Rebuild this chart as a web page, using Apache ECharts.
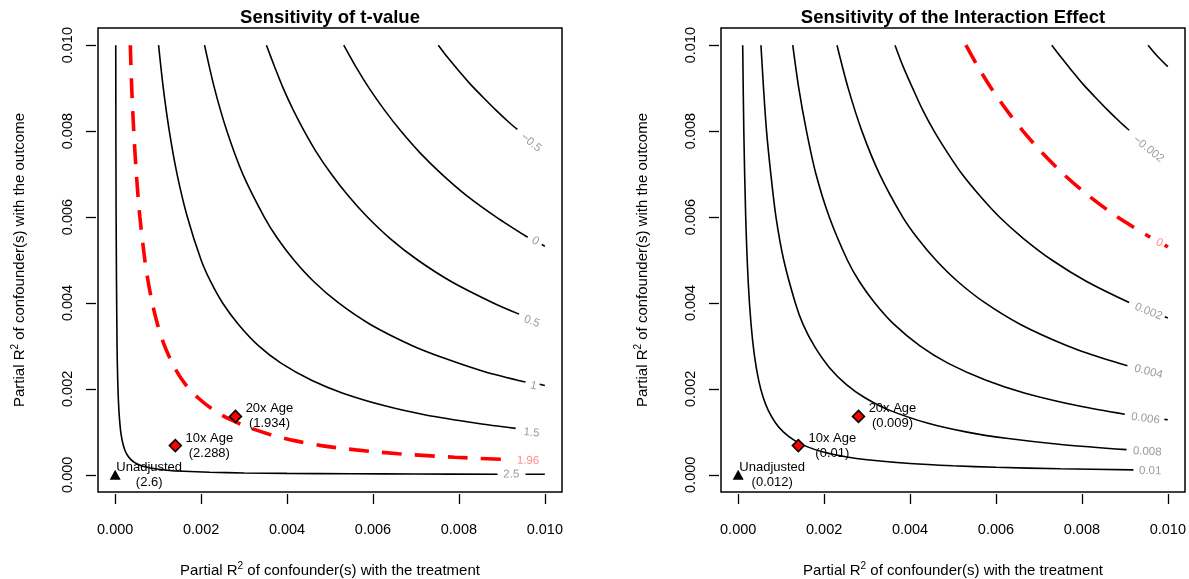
<!DOCTYPE html>
<html>
<head>
<meta charset="utf-8">
<script src="https://cdn.jsdelivr.net/npm/echarts@6/dist/echarts.min.js"></script>
<style>
  html, body { margin: 0; padding: 0; background: #fff; }
  #chart { width: 1189px; height: 579px; }
</style>
</head>
<body>
<div id="chart"></div>
<script>
// ---- axes (same range on both panels) ----
const tickValues = [0, 0.002, 0.004, 0.006, 0.008, 0.010];
const tickLabels = ['0.000', '0.002', '0.004', '0.006', '0.008', '0.010'];

// ---- benchmark points ----
const benchNames = ['Unadjusted', '10x Age', '20x Age'];
const benchX = [0, 0.0014, 0.0028];
const benchY = [0, 0.00068, 0.00136];
const benchT = ['2.6', '2.288', '1.934'];
const benchEst = ['0.012', '0.01', '0.009'];

// ---- left panel: t-value contours, [R2dz.x, R2yz.dx] ----
const tLineM05 = [[0.00752,0.0100],[0.00775,0.0097],[0.00800,0.0094],[0.00826,0.0091],[0.00855,0.0088],[0.00885,0.0085],[0.00917,0.0082],[0.00936,0.00804]];
const tLine0 = [[0.00532,0.0100],[0.00560,0.0095],[0.00591,0.0090],[0.00626,0.0085],[0.00665,0.0080],[0.00709,0.0075],[0.00760,0.0070],[0.00818,0.0065],[0.00887,0.0060],[0.00960,0.00553]];
const tLine05 = [[0.00352,0.0100],[0.00371,0.0095],[0.00391,0.0090],[0.00414,0.0085],[0.00440,0.0080],[0.00469,0.0075],[0.00503,0.0070],[0.00542,0.0065],[0.00587,0.0060],[0.00640,0.0055],[0.00704,0.0050],[0.00782,0.0045],[0.00880,0.0040],[0.00940,0.00374]];
const tLine1 = [[0.00208,0.0100],[0.00231,0.0090],[0.00260,0.0080],[0.00297,0.0070],[0.00347,0.0060],[0.00378,0.0055],[0.00416,0.0050],[0.00462,0.0045],[0.00520,0.0040],[0.00594,0.0035],[0.00693,0.0030],[0.00770,0.0027],[0.00860,0.0024],[0.00955,0.00216]];
const tLine15 = [[0.00101,0.0100],[0.00112,0.0090],[0.00126,0.0080],[0.00144,0.0070],[0.00168,0.0060],[0.00200,0.0050],[0.00222,0.0045],[0.00250,0.0040],[0.00287,0.0035],[0.00334,0.0030],[0.00386,0.0026],[0.00457,0.0022],[0.00530,0.0019],[0.00630,0.0016],[0.00720,0.0014],[0.00842,0.0012],[0.00932,0.00108]];
const tLine25 = [[0.000013,0.0100],[0.0000217,0.0060],[0.0000433,0.0030],[0.000065,0.0020],[0.0000867,0.0015],[0.000118,0.0011],[0.000144,0.0009],[0.000186,0.0007],[0.000236,0.00055],[0.000289,0.00045],[0.000361,0.00036],[0.000448,0.00029],[0.000565,0.00023],[0.000722,0.00018],[0.00093,0.00014],[0.0012,0.000108],[0.0016,0.0000813],[0.0022,0.0000591],[0.0030,0.0000433],[0.0040,0.0000325],[0.0055,0.0000236],[0.0070,0.0000186],[0.0089,0.0000146]];
const tLine196 = [[0.000352,0.0100],[0.000385,0.0090],[0.000432,0.0080],[0.000493,0.0070],[0.000575,0.0060],[0.00069,0.0050],[0.000767,0.0045],[0.000863,0.0040],[0.000986,0.0035],[0.00115,0.0030],[0.00138,0.0025],[0.00164,0.0021],[0.00192,0.0018],[0.0023,0.0015],[0.00265,0.0013],[0.00312,0.0011],[0.0036,0.00094],[0.0042,0.00079],[0.0048,0.00068],[0.0056,0.00058],[0.0066,0.00049],[0.0079,0.00041],[0.00923,0.00035]];
const tTails = [[[0.00993,0.00536],[0.0100,0.00532]], [[0.00988,0.00211],[0.0100,0.00208]], [[0.00955,0.000014],[0.0100,0.000013]]];
const tLabelText = ['\u22120.5', '0', '0.5', '1', '1.5', '2.5'];
const tLabelPos = [[0.00968,0.00773],[0.00978,0.00544],[0.0097,0.00357],[0.00974,0.00207],[0.00969,0.00098],[0.00922,0.00001]];
const tThreshText = '1.96';
const tThreshPos = [0.00961,0.00033];

// ---- right panel: interaction effect contours ----
const eLineM004 = [[0.00954,0.0100],[0.00977,0.00973],[0.0100,0.0095]];
const eLineM002 = [[0.0073,0.0100],[0.00753,0.0097],[0.00777,0.0094],[0.00802,0.0091],[0.0083,0.0088],[0.00859,0.0085],[0.0089,0.0082],[0.0091,0.00802]];
const eLine002 = [[0.00365,0.0100],[0.00384,0.0095],[0.00406,0.0090],[0.00429,0.0085],[0.00456,0.0080],[0.00487,0.0075],[0.00521,0.0070],[0.00562,0.0065],[0.00608,0.0060],[0.00664,0.0055],[0.0073,0.0050],[0.00811,0.0045],[0.0091,0.00401]];
const eLine004 = [[0.0023,0.0100],[0.00256,0.0090],[0.00288,0.0080],[0.00329,0.0070],[0.00383,0.0060],[0.00418,0.0055],[0.0046,0.0050],[0.00511,0.0045],[0.00575,0.0040],[0.00657,0.0035],[0.00767,0.0030],[0.00852,0.0027],[0.00906,0.00254]];
const eLine006 = [[0.00127,0.0100],[0.00141,0.0090],[0.00159,0.0080],[0.00181,0.0070],[0.00212,0.0060],[0.00254,0.0050],[0.00282,0.0045],[0.00318,0.0040],[0.00363,0.0035],[0.00423,0.0030],[0.00488,0.0026],[0.00577,0.0022],[0.00668,0.0019],[0.00794,0.0016],[0.0090,0.00141]];
const eLine008 = [[0.00053,0.0100],[0.00059,0.0090],[0.00066,0.0080],[0.00076,0.0070],[0.00088,0.0060],[0.00106,0.0050],[0.00133,0.0040],[0.00151,0.0035],[0.00177,0.0030],[0.00212,0.0025],[0.00252,0.0021],[0.00294,0.0018],[0.00353,0.0015],[0.00442,0.0012],[0.0053,0.0010],[0.00624,0.00085],[0.00757,0.0007],[0.00904,0.000586]];
const eLine01 = [[0.000105,0.0100],[0.000131,0.0080],[0.000175,0.0060],[0.000233,0.0045],[0.0003,0.0035],[0.000375,0.0028],[0.000477,0.0022],[0.000583,0.0018],[0.0007,0.0015],[0.000875,0.0012],[0.00105,0.0010],[0.0013,0.000808],[0.0016,0.000656],[0.0020,0.000525],[0.0025,0.00042],[0.0030,0.00035],[0.0040,0.000263],[0.0050,0.00021],[0.0060,0.000175],[0.0075,0.00014],[0.0092,0.000114]];
const eLine0 = [[0.0053,0.0100],[0.00558,0.0095],[0.00589,0.0090],[0.00624,0.0085],[0.00663,0.0080],[0.00707,0.0075],[0.00757,0.0070],[0.00815,0.0065],[0.00883,0.0060],[0.00959,0.00553]];
const eTails = [[[0.00993,0.00368],[0.0100,0.00365]], [[0.00992,0.00129],[0.0100,0.00128]]];
const eThreshTail = [[0.00993,0.00535],[0.0100,0.0053]];
const eLabelText = ['\u22120.002', '0.002', '0.004', '0.006', '0.008', '0.01'];
const eLabelPos = [[0.00955,0.00758],[0.00955,0.0038],[0.00955,0.0024],[0.00948,0.00131],[0.00952,0.00054],[0.00959,0.00009]];
const eThreshText = '0';
const eThreshPos = [0.0098,0.0054];

const FONT = '"Liberation Sans", Arial, Helvetica, sans-serif';
const RED = '#ff0000';

function contour(data, gi) {
    return {
        type: 'line', xAxisIndex: gi, yAxisIndex: gi, data,
        symbol: 'none', smooth: 0.3, silent: true, z: 2,
        lineStyle: { color: '#000', width: 1.6 }
    };
}

function threshold(data, gi) {
    return {
        type: 'line', xAxisIndex: gi, yAxisIndex: gi, data,
        symbol: 'none', smooth: 0.3, silent: true, z: 3,
        lineStyle: { color: RED, width: 3.6, type: [20, 13], cap: 'butt' }
    };
}

// contour labels sit on the line and follow its slope
function contourLabels(texts, pos, gi, color) {
    return {
        type: 'scatter', xAxisIndex: gi, yAxisIndex: gi, symbolSize: 0, silent: true, z: 4,
        itemStyle: { opacity: 1 },
        data: pos.map((p, i) => ({
            value: p,
            name: texts[i],
            label: { rotate: -Math.atan2(p[1], p[0]) * 180 / Math.PI }
        })),
        label: {
            show: true, position: 'inside', formatter: '{b}',
            fontSize: 11.5, color: color, fontFamily: FONT, textBorderWidth: 0
        }
    };
}

function benchmarks(values, gi) {
    return {
        type: 'scatter', xAxisIndex: gi, yAxisIndex: gi, silent: true, z: 5,
        itemStyle: { opacity: 1 },
        data: benchX.map((x, i) => ({
            value: [x, benchY[i]],
            name: benchNames[i],
            symbol: i === 0 ? 'triangle' : 'diamond',
            symbolSize: i === 0 ? [11, 10] : [12, 12],
            itemStyle: i === 0
                ? { color: '#000', opacity: 1 }
                : { color: RED, borderColor: '#000', borderWidth: 1.5, opacity: 1 },
            label: { formatter: benchNames[i] + '\n(' + values[i] + ')' }
        })),
        label: {
            show: true, position: 'inside', offset: [34, 0], align: 'center',
            fontSize: 13, lineHeight: 15, color: '#000', fontFamily: FONT, textBorderWidth: 0
        }
    };
}

const nameRich = { sup: { fontSize: 10, verticalAlign: 'bottom', padding: [0, 0, 9, 0], fontFamily: FONT, color: '#000' } };

function tickFmt(v) {
    return tickLabels[tickValues.findIndex(t => Math.abs(t - v) < 1e-9)];
}

function xAxis(gi) {
    return {
        type: 'value', gridIndex: gi, min: -0.0004, max: 0.0104, offset: 2,
        splitLine: { show: false }, axisLine: { show: false, onZero: false },
        axisTick: { show: true, length: 10, customValues: tickValues, lineStyle: { color: '#000', width: 1.3 } },
        axisLabel: {
            customValues: tickValues, margin: 28, fontSize: 14.5, color: '#000', fontFamily: FONT,
            alignMinLabel: 'center', alignMaxLabel: 'center', hideOverlap: false,
            formatter: tickFmt
        },
        name: 'Partial R{sup|2} of confounder(s) with the treatment',
        nameLocation: 'middle', nameGap: 67,
        nameTextStyle: { fontSize: 15, color: '#000', fontFamily: FONT, rich: nameRich }
    };
}

function yAxis(gi) {
    return {
        type: 'value', gridIndex: gi, min: -0.0004, max: 0.0104, offset: 2,
        splitLine: { show: false }, axisLine: { show: false, onZero: false },
        axisTick: { show: true, length: 10, customValues: tickValues, lineStyle: { color: '#000', width: 1.3 } },
        axisLabel: {
            customValues: tickValues, margin: 21, rotate: 90, fontSize: 14.5, color: '#000', fontFamily: FONT,
            formatter: tickFmt
        },
        name: 'Partial R{sup|2} of confounder(s) with the outcome',
        nameLocation: 'middle', nameGap: 67, nameRotate: 90,
        nameTextStyle: { fontSize: 15, color: '#000', fontFamily: FONT, rich: nameRich }
    };
}

const chart = echarts.init(document.getElementById('chart'));

const gridStyle = {
    show: true, borderColor: '#000', borderWidth: 1.5, backgroundColor: 'transparent',
    containLabel: false, outerBoundsMode: 'none'
};
const titleStyle = { fontSize: 18.5, fontWeight: 'bold', color: '#000', fontFamily: FONT };

chart.setOption({
    animation: false,
    textStyle: { fontFamily: FONT },
    title: [
        { text: 'Sensitivity of t-value', left: 330, top: 8, textAlign: 'center', padding: 0, textStyle: titleStyle },
        { text: 'Sensitivity of the Interaction Effect', left: 953, top: 8, textAlign: 'center', padding: 0, textStyle: titleStyle }
    ],
    grid: [
        Object.assign({ left: 98, top: 28, width: 464, height: 464 }, gridStyle),
        Object.assign({ left: 721, top: 28, width: 464, height: 464 }, gridStyle)
    ],
    xAxis: [xAxis(0), xAxis(1)],
    yAxis: [yAxis(0), yAxis(1)],
    series: [
        // left panel
        ...[tLineM05, tLine0, tLine05, tLine1, tLine15, tLine25].map(d => contour(d, 0)),
        ...tTails.map(d => contour(d, 0)),
        threshold(tLine196, 0),
        contourLabels(tLabelText, tLabelPos, 0, '#9c9c9c'),
        contourLabels([tThreshText], [tThreshPos], 0, '#ff8c8c'),
        benchmarks(benchT, 0),
        // right panel
        ...[eLineM004, eLineM002, eLine002, eLine004, eLine006, eLine008, eLine01].map(d => contour(d, 1)),
        ...eTails.map(d => contour(d, 1)),
        threshold(eLine0, 1),
        threshold(eThreshTail, 1),
        contourLabels(eLabelText, eLabelPos, 1, '#9c9c9c'),
        contourLabels([eThreshText], [eThreshPos], 1, '#ff8c8c'),
        benchmarks(benchEst, 1)
    ]
});
</script>
</body>
</html>
